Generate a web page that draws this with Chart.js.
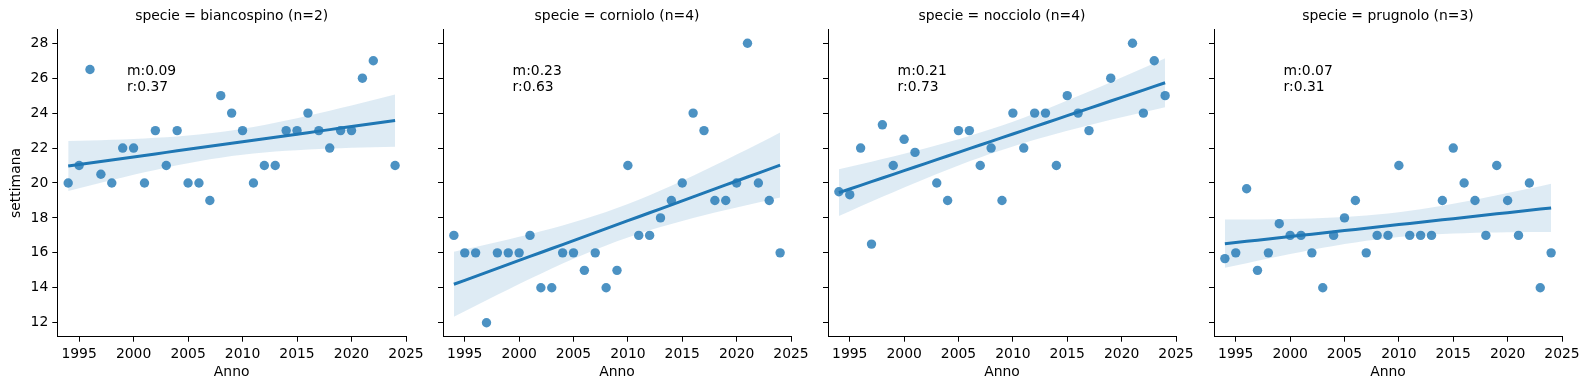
<!DOCTYPE html>
<html>
<head>
<meta charset="utf-8">
<script src="https://cdn.jsdelivr.net/npm/chart.js@4.4.1/dist/chart.umd.min.js"></script>
<style>
  body { margin: 0; background: #fff; width: 1589px; height: 390px; overflow: hidden; position: relative; }
  canvas { position: absolute; top: 0; }
</style>
</head>
<body>
<canvas id="c0"></canvas>
<canvas id="c1"></canvas>
<canvas id="c2"></canvas>
<canvas id="c3"></canvas>
<script>
// data (null = no point that year)
const years = [1994, 1995, 1996, 1997, 1998, 1999, 2000, 2001, 2002, 2003, 2004, 2005, 2006, 2007, 2008, 2009,
  2010, 2011, 2012, 2013, 2014, 2015, 2016, 2017, 2018, 2019, 2020, 2021, 2022, 2023, 2024]
const biancospino = [20, 21, 26.5, 20.5, 20, 22, 22, 20, 23, 21, 23, 20, 20, 19, 25, 24,
  23, 20, 21, 21, 23, 23, 24, 23, 22, 23, 23, 26, 27, null, 21]
const corniolo = [17, 16, 16, 12, 16, 16, 16, 17, 14, 14, 16, 16, 15, 16, 14, 15,
  21, 17, 17, 18, 19, 20, 24, 23, 19, 19, 20, 28, 20, 19, 16]
const nocciolo = [19.5, 19.33, 22, 16.5, 23.33, 21, 22.5, 21.75, null, 20, 19, 23, 23, 21, 22, 19,
  24, 22, 24, 24, 21, 25, 24, 23, null, 26, null, 28, 24, 27, 25]
const prugnolo = [15.67, 16, 19.67, 15, 16, 17.67, 17, 17, 16, 14, 17, 18, 19, 16, 17, 17,
  21, 17, 17, 17, 19, 22, 20, 19, 17, 21, 19, 17, 20, 14, 16]

const species = ['biancospino', 'corniolo', 'nocciolo', 'prugnolo']
const counts = [2, 4, 4, 3]
const series = [biancospino, corniolo, nocciolo, prugnolo]
const stats = [['m:0.09', 'r:0.37'], ['m:0.23', 'r:0.63'], ['m:0.21', 'r:0.73'], ['m:0.07', 'r:0.31']]
const xTicks = [1995, 2000, 2005, 2010, 2015, 2020, 2025]
const yTicks = [12, 14, 16, 18, 20, 22, 24, 26, 28]

const blue = '#1f77b4'
const FONT = 13.9
Chart.defaults.font.family = '"DejaVu Sans", sans-serif'
Chart.defaults.font.size = FONT
Chart.defaults.color = '#000'

// least squares fit + 95% confidence band of the mean
function regression(xs, ys){
  const pts = xs.map((x, i) => [x, ys[i]]).filter(p => p[1] !== null)
  const n = pts.length
  const mx = pts.reduce((s, p) => s + p[0], 0) / n
  const my = pts.reduce((s, p) => s + p[1], 0) / n
  let sxx = 0, sxy = 0
  pts.forEach(p => { sxx += (p[0] - mx) ** 2; sxy += (p[0] - mx) * (p[1] - my) })
  const b = sxy / sxx, a = my - b * mx
  let sse = 0
  pts.forEach(p => { sse += (p[1] - a - b * p[0]) ** 2 })
  const s = Math.sqrt(sse / (n - 2))
  const t = 1.96 + 2.5 / (n - 2)
  const lo = Math.min(...pts.map(p => p[0])), hi = Math.max(...pts.map(p => p[0]))
  const grid = xs.filter(x => x >= lo && x <= hi)
  const line = [], upper = [], lower = []
  grid.forEach(x => {
    const yh = a + b * x
    const h = t * s * Math.sqrt(1 / n + (x - mx) ** 2 / sxx)
    line.push({x: x, y: yh})
    upper.push({x: x, y: yh + h})
    lower.push({x: x, y: yh - h})
  })
  return {line, upper, lower}
}

const statsText = {
  id: 'statsText',
  afterDatasetsDraw(chart, args, opts){
    const {ctx, chartArea: a} = chart
    ctx.save()
    ctx.font = FONT + 'px "DejaVu Sans"'
    ctx.fillStyle = '#000'
    ctx.textBaseline = 'alphabetic'
    const x = a.left + 0.2 * (a.right - a.left)
    const y = a.bottom - 0.8 * (a.bottom - a.top)
    ctx.fillText(opts.lines[0], x, y - 16)
    ctx.fillText(opts.lines[1], x, y)
    ctx.restore()
  }
}

const areaLefts = [57.3, 443.3, 828.3, 1214.3]
const areaW = 348.3
const rightPad = 26
const xH = 390 - 336.7

species.forEach((name, i) => {
  const yW = i === 0 ? 57.3 : 30
  const cv = document.getElementById('c' + i)
  cv.width = Math.round(yW + areaW + rightPad)
  cv.height = 390
  cv.style.left = (areaLefts[i] - yW) + 'px'

  const reg = regression(years, series[i])
  const pts = years.map((x, k) => ({x: x, y: series[i][k]})).filter(p => p.y !== null)

  new Chart(cv, {
    type: 'scatter',
    data: {
      datasets: [
        {type: 'line', data: reg.line, borderColor: blue, borderWidth: 3, pointRadius: 0, fill: false, order: 0},
        {type: 'line', data: reg.lower, borderWidth: 0, pointRadius: 0, fill: false, order: 1},
        {type: 'line', data: reg.upper, borderWidth: 0, pointRadius: 0, fill: '-1',
          backgroundColor: 'rgba(31,119,180,0.15)', order: 1},
        {data: pts, backgroundColor: 'rgba(31,119,180,0.8)', borderWidth: 0, pointRadius: 4.7,
          pointHoverRadius: 4.7, order: 2}
      ]
    },
    options: {
      responsive: false,
      animation: false,
      events: [],
      layout: {padding: {left: 0, right: rightPad, top: 0, bottom: 0}},
      plugins: {
        legend: {display: false},
        tooltip: {enabled: false},
        title: {
          display: true,
          text: 'specie = ' + name + ' (n=' + counts[i] + ')',
          fullSize: false,
          color: '#000',
          font: {size: FONT, weight: 'normal', lineHeight: 1.2},
          padding: {top: 7.6, bottom: 5}
        },
        statsText: {lines: stats[i]}
      },
      scales: {
        x: {
          type: 'linear',
          min: 1993,
          max: 2025,
          afterBuildTicks: s => { s.ticks = xTicks.map(v => ({value: v})) },
          afterFit: s => { s.height = xH; s.paddingLeft = 0; s.paddingRight = 0 },
          ticks: {autoSkip: false, maxRotation: 0, padding: 4, callback: v => String(v)},
          grid: {display: true, drawOnChartArea: false, drawTicks: true, tickLength: 5, color: '#000', tickColor: '#000'},
          border: {display: true, color: '#000', width: 1},
          title: {display: true, text: 'Anno', color: '#000', font: {size: FONT, lineHeight: 1.2}, padding: {top: 0, bottom: 9.7}}
        },
        y: {
          type: 'linear',
          min: 11.2,
          max: 28.8,
          afterBuildTicks: s => { s.ticks = yTicks.map(v => ({value: v})) },
          afterFit: s => { s.width = yW; s.paddingTop = 0; s.paddingBottom = 0 },
          ticks: {autoSkip: false, padding: 4, callback: v => i === 0 ? String(v) : ''},
          grid: {display: true, drawOnChartArea: false, drawTicks: true, tickLength: 5, color: '#000', tickColor: '#000'},
          border: {display: true, color: '#000', width: 1},
          title: {display: i === 0, text: 'settimana', color: '#000', font: {size: FONT, lineHeight: 1.2}, padding: {top: 8.4, bottom: 0}}
        }
      }
    },
    plugins: [statsText]
  })
})
</script>
</body>
</html>
